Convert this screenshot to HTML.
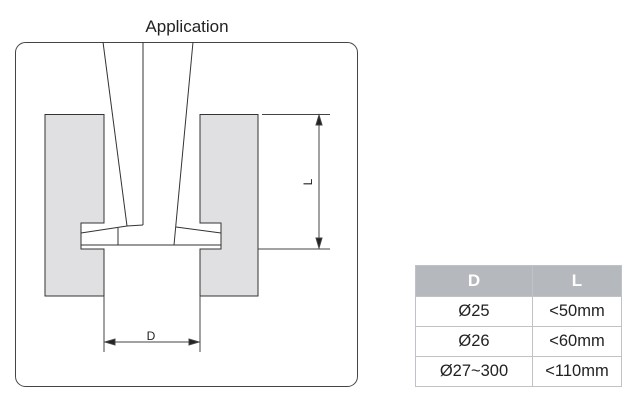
<!DOCTYPE html>
<html><head><style>
body{margin:0;width:640px;height:402px;background:#fff;font-family:"Liberation Sans",sans-serif;position:relative;overflow:hidden}
table{position:absolute;left:415px;top:265px;border-collapse:collapse;font-size:16.5px;color:#222}
td,th{border:1px solid #bfc3c7;text-align:center;padding:0;height:29px}
th{background:#b5b9be;color:#fff;font-weight:bold;font-size:17px;height:30px}
</style></head><body>
<svg width="640" height="402" style="position:absolute;left:0;top:0">
<text x="187" y="32" font-size="17" text-anchor="middle" font-family="Liberation Sans" fill="#222">Application</text>
<rect x="15.5" y="42.5" width="342" height="344" rx="10" fill="none" stroke="#444" stroke-width="1"/>
<g stroke="#333" stroke-width="1" fill="#e0e0e2">
<path d="M45 114.5H104V223H81V249H104V296H45Z"/>
<path d="M200 114.5H258V296H200V249H221V223H200Z"/>
</g>
<g stroke="#333" stroke-width="1" fill="none">
<path d="M103 42L127 226"/>
<path d="M193 42L174 245"/>
<path d="M143 42V225"/>
<path d="M81 233L127 226L143 225"/>
<path d="M176 227L221 233"/>
<path d="M81 245H221"/>
<path d="M118 228V245"/>
</g>
<g stroke="#444" stroke-width="1" fill="#222">
<path d="M262 114.5H330M258 249H330M319 114.5V249M104 296V352M200 296V352M104 342H200" fill="none"/>
<path d="M319 115l-3 10h6z"/><path d="M319 248l-3 -10h6z"/>
<path d="M105 342l10 -3v6z"/><path d="M199 342l-10 -3v6z"/>
</g>
<text x="151" y="340" font-size="12" text-anchor="middle" fill="#222">D</text>
<text transform="translate(312,182) rotate(-90)" font-size="12" text-anchor="middle" fill="#222">L</text>
</svg>
<table>
<tr><th style="width:116px">D</th><th style="width:88px">L</th></tr>
<tr><td>Ø25</td><td>&lt;50mm</td></tr>
<tr><td>Ø26</td><td>&lt;60mm</td></tr>
<tr><td>Ø27~300</td><td>&lt;110mm</td></tr>
</table>
</body></html>
